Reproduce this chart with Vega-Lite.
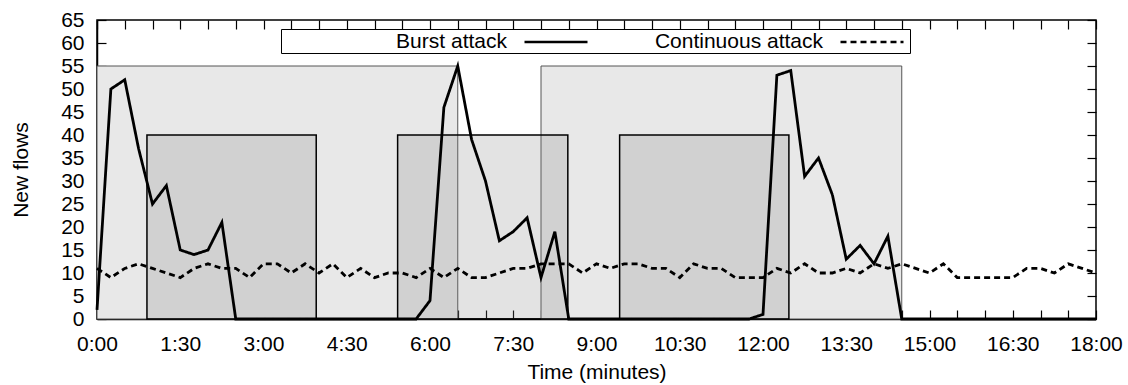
{
  "$schema": "https://vega.github.io/schema/vega-lite/v6.json",
  "width": 999,
  "height": 299,
  "autosize": {"type": "none"},
  "padding": {"left": 97, "top": 20, "right": 32, "bottom": 66},
  "background": "white",
  "config": {
    "font": "Liberation Sans",
    "view": {"stroke": "black", "strokeWidth": 1.5},
    "axis": {
      "grid": false,
      "labelFont": "Liberation Sans",
      "labelFontSize": 21,
      "labelColor": "black",
      "titleFont": "Liberation Sans",
      "titleFontSize": 21,
      "titleFontWeight": "normal",
      "titleColor": "black",
      "tickColor": "black",
      "tickWidth": 1.2,
      "domainColor": "black",
      "domainWidth": 1.5,
      "labelOverlap": false,
      "labelFlush": false
    }
  },
  "datasets": {
    "windows": [
      {"kind": "light", "start": 0, "end": 390, "top": 55},
      {"kind": "light", "start": 480, "end": 870, "top": 55},
      {"kind": "dark", "start": 54, "end": 237, "top": 40},
      {"kind": "dark", "start": 325, "end": 509, "top": 40},
      {"kind": "dark", "start": 565, "end": 748, "top": 40}
    ],
    "flows": [
      {"series": "Continuous attack", "t": 0, "flows": 11},
      {"series": "Continuous attack", "t": 15, "flows": 9},
      {"series": "Continuous attack", "t": 30, "flows": 11},
      {"series": "Continuous attack", "t": 45, "flows": 12},
      {"series": "Continuous attack", "t": 60, "flows": 11},
      {"series": "Continuous attack", "t": 75, "flows": 10},
      {"series": "Continuous attack", "t": 90, "flows": 9},
      {"series": "Continuous attack", "t": 105, "flows": 11},
      {"series": "Continuous attack", "t": 120, "flows": 12},
      {"series": "Continuous attack", "t": 135, "flows": 11},
      {"series": "Continuous attack", "t": 150, "flows": 11},
      {"series": "Continuous attack", "t": 165, "flows": 9},
      {"series": "Continuous attack", "t": 180, "flows": 12},
      {"series": "Continuous attack", "t": 195, "flows": 12},
      {"series": "Continuous attack", "t": 210, "flows": 10},
      {"series": "Continuous attack", "t": 225, "flows": 12},
      {"series": "Continuous attack", "t": 240, "flows": 10},
      {"series": "Continuous attack", "t": 255, "flows": 12},
      {"series": "Continuous attack", "t": 270, "flows": 9},
      {"series": "Continuous attack", "t": 285, "flows": 11},
      {"series": "Continuous attack", "t": 300, "flows": 9},
      {"series": "Continuous attack", "t": 315, "flows": 10},
      {"series": "Continuous attack", "t": 330, "flows": 10},
      {"series": "Continuous attack", "t": 345, "flows": 9},
      {"series": "Continuous attack", "t": 360, "flows": 11},
      {"series": "Continuous attack", "t": 375, "flows": 9},
      {"series": "Continuous attack", "t": 390, "flows": 11},
      {"series": "Continuous attack", "t": 405, "flows": 9},
      {"series": "Continuous attack", "t": 420, "flows": 9},
      {"series": "Continuous attack", "t": 435, "flows": 10},
      {"series": "Continuous attack", "t": 450, "flows": 11},
      {"series": "Continuous attack", "t": 465, "flows": 11},
      {"series": "Continuous attack", "t": 480, "flows": 12},
      {"series": "Continuous attack", "t": 495, "flows": 12},
      {"series": "Continuous attack", "t": 510, "flows": 12},
      {"series": "Continuous attack", "t": 525, "flows": 10},
      {"series": "Continuous attack", "t": 540, "flows": 12},
      {"series": "Continuous attack", "t": 555, "flows": 11},
      {"series": "Continuous attack", "t": 570, "flows": 12},
      {"series": "Continuous attack", "t": 585, "flows": 12},
      {"series": "Continuous attack", "t": 600, "flows": 11},
      {"series": "Continuous attack", "t": 615, "flows": 11},
      {"series": "Continuous attack", "t": 630, "flows": 9},
      {"series": "Continuous attack", "t": 645, "flows": 12},
      {"series": "Continuous attack", "t": 660, "flows": 11},
      {"series": "Continuous attack", "t": 675, "flows": 11},
      {"series": "Continuous attack", "t": 690, "flows": 9},
      {"series": "Continuous attack", "t": 705, "flows": 9},
      {"series": "Continuous attack", "t": 720, "flows": 9},
      {"series": "Continuous attack", "t": 735, "flows": 11},
      {"series": "Continuous attack", "t": 750, "flows": 10},
      {"series": "Continuous attack", "t": 765, "flows": 12},
      {"series": "Continuous attack", "t": 780, "flows": 10},
      {"series": "Continuous attack", "t": 795, "flows": 10},
      {"series": "Continuous attack", "t": 810, "flows": 11},
      {"series": "Continuous attack", "t": 825, "flows": 10},
      {"series": "Continuous attack", "t": 840, "flows": 12},
      {"series": "Continuous attack", "t": 855, "flows": 11},
      {"series": "Continuous attack", "t": 870, "flows": 12},
      {"series": "Continuous attack", "t": 885, "flows": 11},
      {"series": "Continuous attack", "t": 900, "flows": 10},
      {"series": "Continuous attack", "t": 915, "flows": 12},
      {"series": "Continuous attack", "t": 930, "flows": 9},
      {"series": "Continuous attack", "t": 945, "flows": 9},
      {"series": "Continuous attack", "t": 960, "flows": 9},
      {"series": "Continuous attack", "t": 975, "flows": 9},
      {"series": "Continuous attack", "t": 990, "flows": 9},
      {"series": "Continuous attack", "t": 1005, "flows": 11},
      {"series": "Continuous attack", "t": 1020, "flows": 11},
      {"series": "Continuous attack", "t": 1035, "flows": 10},
      {"series": "Continuous attack", "t": 1050, "flows": 12},
      {"series": "Continuous attack", "t": 1065, "flows": 11},
      {"series": "Continuous attack", "t": 1080, "flows": 10},
      {"series": "Burst attack", "t": 0, "flows": 2},
      {"series": "Burst attack", "t": 15, "flows": 50},
      {"series": "Burst attack", "t": 30, "flows": 52},
      {"series": "Burst attack", "t": 45, "flows": 37},
      {"series": "Burst attack", "t": 60, "flows": 25},
      {"series": "Burst attack", "t": 75, "flows": 29},
      {"series": "Burst attack", "t": 90, "flows": 15},
      {"series": "Burst attack", "t": 105, "flows": 14},
      {"series": "Burst attack", "t": 120, "flows": 15},
      {"series": "Burst attack", "t": 135, "flows": 21},
      {"series": "Burst attack", "t": 150, "flows": 0},
      {"series": "Burst attack", "t": 165, "flows": 0},
      {"series": "Burst attack", "t": 180, "flows": 0},
      {"series": "Burst attack", "t": 195, "flows": 0},
      {"series": "Burst attack", "t": 210, "flows": 0},
      {"series": "Burst attack", "t": 225, "flows": 0},
      {"series": "Burst attack", "t": 240, "flows": 0},
      {"series": "Burst attack", "t": 255, "flows": 0},
      {"series": "Burst attack", "t": 270, "flows": 0},
      {"series": "Burst attack", "t": 285, "flows": 0},
      {"series": "Burst attack", "t": 300, "flows": 0},
      {"series": "Burst attack", "t": 315, "flows": 0},
      {"series": "Burst attack", "t": 330, "flows": 0},
      {"series": "Burst attack", "t": 345, "flows": 0},
      {"series": "Burst attack", "t": 360, "flows": 4},
      {"series": "Burst attack", "t": 375, "flows": 46},
      {"series": "Burst attack", "t": 390, "flows": 55},
      {"series": "Burst attack", "t": 405, "flows": 39},
      {"series": "Burst attack", "t": 420, "flows": 30},
      {"series": "Burst attack", "t": 435, "flows": 17},
      {"series": "Burst attack", "t": 450, "flows": 19},
      {"series": "Burst attack", "t": 465, "flows": 22},
      {"series": "Burst attack", "t": 480, "flows": 9},
      {"series": "Burst attack", "t": 495, "flows": 19},
      {"series": "Burst attack", "t": 510, "flows": 0},
      {"series": "Burst attack", "t": 525, "flows": 0},
      {"series": "Burst attack", "t": 540, "flows": 0},
      {"series": "Burst attack", "t": 555, "flows": 0},
      {"series": "Burst attack", "t": 570, "flows": 0},
      {"series": "Burst attack", "t": 585, "flows": 0},
      {"series": "Burst attack", "t": 600, "flows": 0},
      {"series": "Burst attack", "t": 615, "flows": 0},
      {"series": "Burst attack", "t": 630, "flows": 0},
      {"series": "Burst attack", "t": 645, "flows": 0},
      {"series": "Burst attack", "t": 660, "flows": 0},
      {"series": "Burst attack", "t": 675, "flows": 0},
      {"series": "Burst attack", "t": 690, "flows": 0},
      {"series": "Burst attack", "t": 705, "flows": 0},
      {"series": "Burst attack", "t": 720, "flows": 1},
      {"series": "Burst attack", "t": 735, "flows": 53},
      {"series": "Burst attack", "t": 750, "flows": 54},
      {"series": "Burst attack", "t": 765, "flows": 31},
      {"series": "Burst attack", "t": 780, "flows": 35},
      {"series": "Burst attack", "t": 795, "flows": 27},
      {"series": "Burst attack", "t": 810, "flows": 13},
      {"series": "Burst attack", "t": 825, "flows": 16},
      {"series": "Burst attack", "t": 840, "flows": 12},
      {"series": "Burst attack", "t": 855, "flows": 18},
      {"series": "Burst attack", "t": 870, "flows": 0},
      {"series": "Burst attack", "t": 885, "flows": 0},
      {"series": "Burst attack", "t": 900, "flows": 0},
      {"series": "Burst attack", "t": 915, "flows": 0},
      {"series": "Burst attack", "t": 930, "flows": 0},
      {"series": "Burst attack", "t": 945, "flows": 0},
      {"series": "Burst attack", "t": 960, "flows": 0},
      {"series": "Burst attack", "t": 975, "flows": 0},
      {"series": "Burst attack", "t": 990, "flows": 0},
      {"series": "Burst attack", "t": 1005, "flows": 0},
      {"series": "Burst attack", "t": 1020, "flows": 0},
      {"series": "Burst attack", "t": 1035, "flows": 0},
      {"series": "Burst attack", "t": 1050, "flows": 0},
      {"series": "Burst attack", "t": 1065, "flows": 0},
      {"series": "Burst attack", "t": 1080, "flows": 0}
    ]
  },
  "layer": [
    {
      "data": {"name": "windows"},
      "transform": [{"filter": "datum.kind == 'light'"}],
      "mark": {"type": "rect", "fill": "#e8e8e8", "stroke": "#555555", "strokeWidth": 1},
      "encoding": {
        "x": {
          "field": "start", "type": "quantitative",
          "scale": {"domain": [0, 1080], "nice": false, "zero": false},
          "axis": {
            "orient": "bottom",
            "title": "Time (minutes)",
            "titlePadding": 7,
            "values": [0,30,60,90,120,150,180,210,240,270,300,330,360,390,420,450,480,510,540,570,600,630,660,690,720,750,780,810,840,870,900,930,960,990,1020,1050,1080],
            "labelExpr": "datum.value % 90 == 0 ? floor(datum.value / 60) + ':' + (datum.value % 60 == 0 ? '00' : '30') : ''",
            "tickSize": -9,
            "labelPadding": 23
          }
        },
        "x2": {"field": "end"},
        "y": {
          "field": "top", "type": "quantitative",
          "scale": {"domain": [0, 65], "nice": false, "zero": false},
          "axis": {
            "orient": "left",
            "title": "New flows",
            "titlePadding": 29,
            "values": [0,5,10,15,20,25,30,35,40,45,50,55,60,65],
            "tickSize": -9,
            "labelPadding": 22
          }
        },
        "y2": {"datum": 0}
      }
    },
    {
      "data": {"name": "windows"},
      "transform": [{"filter": "datum.kind == 'dark'"}],
      "mark": {"type": "rect", "fill": "#7f7f7f", "fillOpacity": 0.22, "stroke": "black", "strokeWidth": 1.5},
      "encoding": {
        "x": {"field": "start", "type": "quantitative", "scale": {"domain": [0, 1080], "nice": false, "zero": false}, "axis": null},
        "x2": {"field": "end"},
        "y": {"field": "top", "type": "quantitative", "scale": {"domain": [0, 65], "nice": false, "zero": false}, "axis": null},
        "y2": {"datum": 0}
      }
    },
    {
      "data": {"name": "flows"},
      "mark": {"type": "line", "color": "black", "strokeWidth": 2.8, "strokeJoin": "miter"},
      "encoding": {
        "x": {
          "field": "t", "type": "quantitative",
          "scale": {"domain": [0, 1080], "nice": false, "zero": false},
          "axis": {
            "orient": "top", "title": null, "labels": false, "domain": false,
            "values": [0,30,60,90,120,150,180,210,240,270,300,330,360,390,420,450,480,510,540,570,600,630,660,690,720,750,780,810,840,870,900,930,960,990,1020,1050,1080],
            "tickSize": -9
          }
        },
        "y": {
          "field": "flows", "type": "quantitative",
          "scale": {"domain": [0, 65], "nice": false, "zero": false},
          "axis": {
            "orient": "right", "title": null, "labels": false, "domain": false,
            "values": [0,5,10,15,20,25,30,35,40,45,50,55,60,65],
            "tickSize": -9
          }
        },
        "strokeDash": {
          "field": "series", "type": "nominal",
          "scale": {"domain": ["Burst attack", "Continuous attack"], "range": [[1, 0], [6, 4]]},
          "legend": {
            "orient": "none",
            "legendX": 184,
            "legendY": 9,
            "direction": "horizontal",
            "columns": 2,
            "title": null,
            "strokeColor": "black",
            "fillColor": "white",
            "padding": 1,
            "symbolType": "M-3,0H3",
            "symbolSize": 441,
            "symbolStrokeWidth": 2.6,
            "symbolStrokeColor": "black",
            "labelFont": "Liberation Sans",
            "labelFontSize": 21,
            "labelColor": "black",
            "labelAlign": "right",
            "labelLimit": 400,
            "symbolOffset": 262,
            "labelOffset": -61,
            "columnPadding": 5
          }
        }
      }
    }
  ],
  "resolve": {
    "scale": {"x": "independent", "y": "independent"},
    "axis": {"x": "independent", "y": "independent"}
  }
}
